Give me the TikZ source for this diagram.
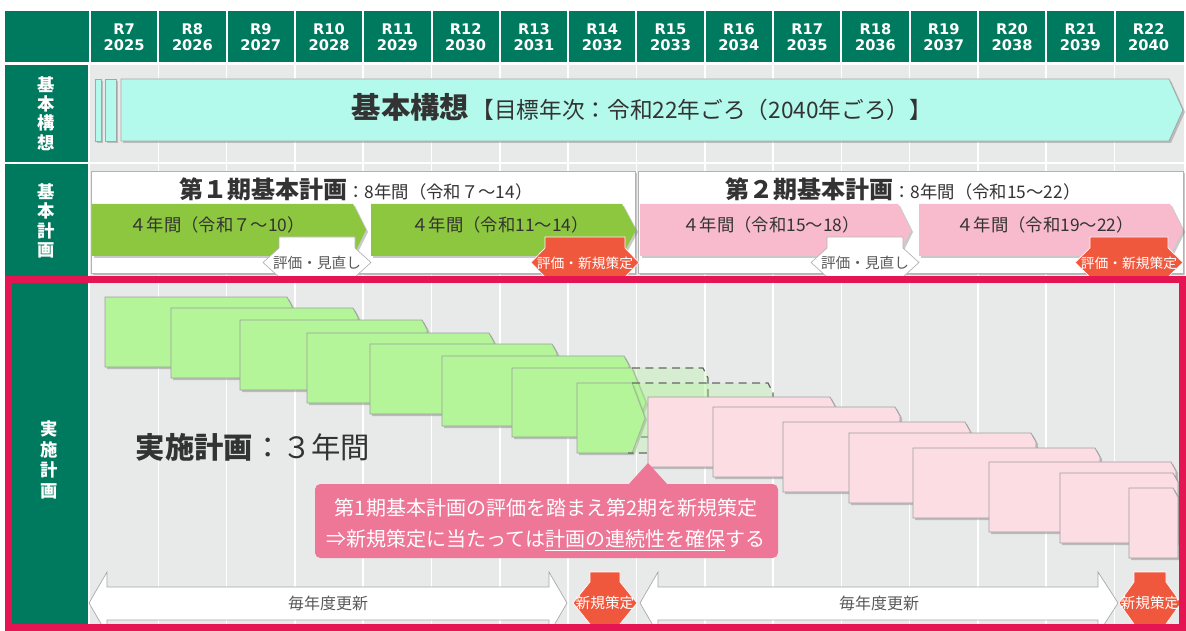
\documentclass[tikz,border=0pt]{standalone}
\usepackage{fontspec}
\setmainfont{Noto Sans CJK JP}
\newfontfamily\yearfont{DejaVu Sans}
\usetikzlibrary{shadows}

\definecolor{hdrgreen}{RGB}{0,122,94}
\definecolor{gridgray}{RGB}{232,234,234}
\definecolor{aqua}{RGB}{180,250,236}
\definecolor{leafgreen}{RGB}{141,198,63}
\definecolor{softpink}{RGB}{248,187,205}
\definecolor{markred}{RGB}{240,88,62}
\definecolor{framered}{RGB}{229,20,82}
\definecolor{lightgreen}{RGB}{179,245,152}
\definecolor{palepink}{RGB}{252,221,228}
\definecolor{calloutpink}{RGB}{238,118,150}
\definecolor{textgray}{RGB}{51,51,51}

% plan box with cut corner: x, y, width, style
\newcommand{\chambox}[4]{\path[#4] (#1,#2) -- ++({#3-5},0) -- ++(5,9) -- ++(0,61) -- ++({-#3},0) -- cycle;}
% bar with arrow tip: x left, x body end, x tip, y top, y bottom, style
\newcommand{\pentbar}[6]{\path[#6] (#1,#4) -- (#2,#4) -- (#3,{(#4+#5)/2}) -- (#2,#5) -- (#1,#5) -- cycle;}
% review marker: cx, top, half body, half tips, y1, y2, bottom, style
\newcommand{\markshape}[8]{\path[#8] ({#1-#3},#2) -- ({#1+#3},#2) -- ({#1+#3},#5) -- ({#1+#4},{(#5+#6)/2}) -- ({#1+#3},#6) -- ({#1+#3},#7) -- ({#1-#3},#7) -- ({#1-#3},#6) -- ({#1-#4},{(#5+#6)/2}) -- ({#1-#3},#5) -- cycle;}
% two-headed arrow: tip left, base left, base right, tip right, style
\newcommand{\dblarrow}[5]{\path[#5] (#1,603) -- (#2,572) -- (#2,587) -- (#3,587) -- (#3,572) -- (#4,603) -- (#3,634) -- (#3,620) -- (#2,620) -- (#2,634) -- cycle;}

\begin{document}
\begin{tikzpicture}[x=0.75pt, y=-0.75pt,
	shadowed/.style={drop shadow={shadow xshift=1.5pt, shadow yshift=-1.5pt, opacity=0.35, fill=black!60}},
	yearlbl/.style={text=white, align=center, font=\yearfont\bfseries\fontsize{11}{12}\selectfont},
	rowlbl/.style={text=white, align=center, font=\bfseries\fontsize{13}{14.5}\selectfont},
	visionbar/.style={fill=aqua, draw=gray!70, line width=0.6pt, shadowed},
	periodbox/.style={fill=white, draw=gray!60, line width=0.6pt, shadowed},
	greenbar/.style={fill=leafgreen, shadowed},
	pinkbar/.style={fill=softpink, shadowed},
	evalwhite/.style={fill=white, draw=gray!60, line width=0.5pt},
	evalred/.style={fill=markred, draw=white, line width=0.5pt},
	implgreen/.style={fill=lightgreen, draw=gray!75, line width=0.6pt, shadowed},
	implpink/.style={fill=palepink, draw=gray!75, line width=0.6pt, shadowed},
	ghost/.style={fill=lightgreen, fill opacity=0.3, draw=black!60, dash pattern=on 6pt off 4pt, line width=0.9pt},
	updarrow/.style={fill=white, draw=gray!70, line width=0.5pt},
	plantitle/.style={text=textgray, font=\fontsize{13}{15}\selectfont},
	bartext/.style={text=textgray, font=\fontsize{13}{15}\selectfont},
	evaltext/.style={text=black!65, font=\fontsize{11}{13}\selectfont},
	redtext/.style={text=white, font=\fontsize{10.3}{12}\selectfont},
	]
\useasboundingbox (0,0) rectangle (1186,631);

% header with the years
\fill[hdrgreen] (5,11) rectangle (1184,62);
\foreach \k in {0,...,15}{
	\pgfmathtruncatemacro{\rn}{7+\k}
	\pgfmathtruncatemacro{\yn}{2025+\k}
	\draw[white, line width=1.5pt] ({90+68.3*\k},11) -- ({90+68.3*\k},62);
	\node[yearlbl] (yr\rn) at ({90+68.3*(\k+0.5)},37) {R\rn\\\yn};
}

% grid
\fill[gridgray] (90,65) rectangle (1184,162);
\fill[gridgray] (90,164) rectangle (1184,631);
\foreach \k in {1,...,15}
	\draw[white, line width=1.2pt] ({90+68.3*\k},65) -- ({90+68.3*\k},631);

% row labels
\fill[hdrgreen] (5,65) rectangle (88,162);
\fill[hdrgreen] (5,164) rectangle (88,277);
\fill[hdrgreen] (5,279) rectangle (88,631);
\node[rowlbl] (lblvision) at (46.5,113.5) {基\\本\\構\\想};
\node[rowlbl] (lblbasic) at (46.5,221) {基\\本\\計\\画};
\node[rowlbl, font=\bfseries\fontsize{13}{15.5}\selectfont] (lblimpl) at (49,460) {実\\施\\計\\画};

% vision
\path[visionbar] (95,79) rectangle (101,141);
\path[visionbar] (105,79) rectangle (116,141);
\pentbar{121}{1169}{1183}{79}{141}{visionbar}
\node[text=textgray] (vision) at (642,107) {{\bfseries\fontsize{22}{26}\selectfont 基本構想}\,{\fontsize{17}{20}\selectfont 【目標年次：令和22年ごろ（2040年ごろ）】}};

% basic plans
\path[periodbox] (91,171) rectangle (635,273);
\path[periodbox] (638,171) rectangle (1183,273);
\node[plantitle] (plan1) at (356,189) {{\bfseries\fontsize{18}{20}\selectfont 第１期基本計画}：8年間（令和７～14）};
\node[plantitle] (plan2) at (903,189) {{\bfseries\fontsize{18}{20}\selectfont 第２期基本計画}：8年間（令和15～22）};
\pentbar{92}{353}{366}{204}{256}{greenbar}
\pentbar{371}{622}{636}{204}{256}{greenbar}
\pentbar{640}{898}{911}{204}{256}{pinkbar}
\pentbar{919}{1170}{1183}{204}{256}{pinkbar}
\node[bartext] (half1) at (217,225) {４年間（令和７～10）};
\node[bartext] (half2) at (500,225) {４年間（令和11～14）};
\node[bartext] (half3) at (771,225) {４年間（令和15～18）};
\node[bartext] (half4) at (1045,225) {４年間（令和19～22）};

\markshape{317}{237}{38}{54}{248}{277}{281}{evalwhite}
\markshape{585}{237}{40}{54}{248}{277}{281}{evalred}
\markshape{865}{237}{38}{54}{248}{277}{281}{evalwhite}
\markshape{1129}{237}{39}{54}{248}{277}{281}{evalred}
\node[evaltext] (rev1) at (317,263) {評価・見直し};
\node[redtext] (new1) at (585,263) {評価・新規策定};
\node[evaltext] (rev2) at (865,263) {評価・見直し};
\node[redtext] (new2) at (1129,263) {評価・新規策定};

% implementation plans
\foreach \bx/\by in {105/297, 171/308, 240/320, 307/333, 370/344, 442/356}
	{\chambox{\bx}{\by}{187}{implgreen}}
\pentbar{512}{632}{646}{368}{437}{implgreen}
\path[ghost] (632,368) -- (703,368) -- (708,378) -- (708,437) -- (628,437);
\pentbar{577}{632}{645}{383}{453}{implgreen}
\path[ghost] (632,383) -- (768,383) -- (773,393) -- (773,453) -- (628,453);
\foreach \bx/\by/\bw in {648/397/187, 713/407/187, 783/422/187, 849/433/187, 913/448/187, 989/462/187, 1060/473/118, 1129/488/49}
	{\chambox{\bx}{\by}{\bw}{implpink}}

\node[text=textgray] (impl) at (253,447) {{\bfseries\fontsize{22}{26}\selectfont 実施計画}{\fontsize{22}{26}\selectfont ：３年間}};

\fill[calloutpink] (648,463) -- (668,485) -- (628,485) -- cycle;
\fill[calloutpink, rounded corners=4pt] (315,484) rectangle (778,558);
\node[text=white, align=center, font=\fontsize{15}{23}\selectfont] (note) at (546,525) {第1期基本計画の評価を踏まえ第2期を新規策定\\⇒新規策定に当たっては\underline{計画の連続性を確保}する};

% yearly updates
\dblarrow{89}{107}{549}{567}{updarrow}
\dblarrow{640}{658}{1098}{1118}{updarrow}
\node[evaltext, font=\fontsize{12}{14}\selectfont] (upd1) at (328,603) {毎年度更新};
\node[evaltext, font=\fontsize{12}{14}\selectfont] (upd2) at (879,603) {毎年度更新};
\markshape{605}{572}{15}{32}{582}{624}{640}{evalred}
\markshape{1150}{572}{16}{31}{582}{624}{640}{evalred}
\node[redtext, font=\fontsize{11}{13}\selectfont] (renew1) at (605,603) {新規策定};
\node[redtext, font=\fontsize{11}{13}\selectfont] (renew2) at (1150,603) {新規策定};

\draw[framered, line width=5.25pt] (8.5,279.5) rectangle (1182.5,627.5);
\end{tikzpicture}
\end{document}
